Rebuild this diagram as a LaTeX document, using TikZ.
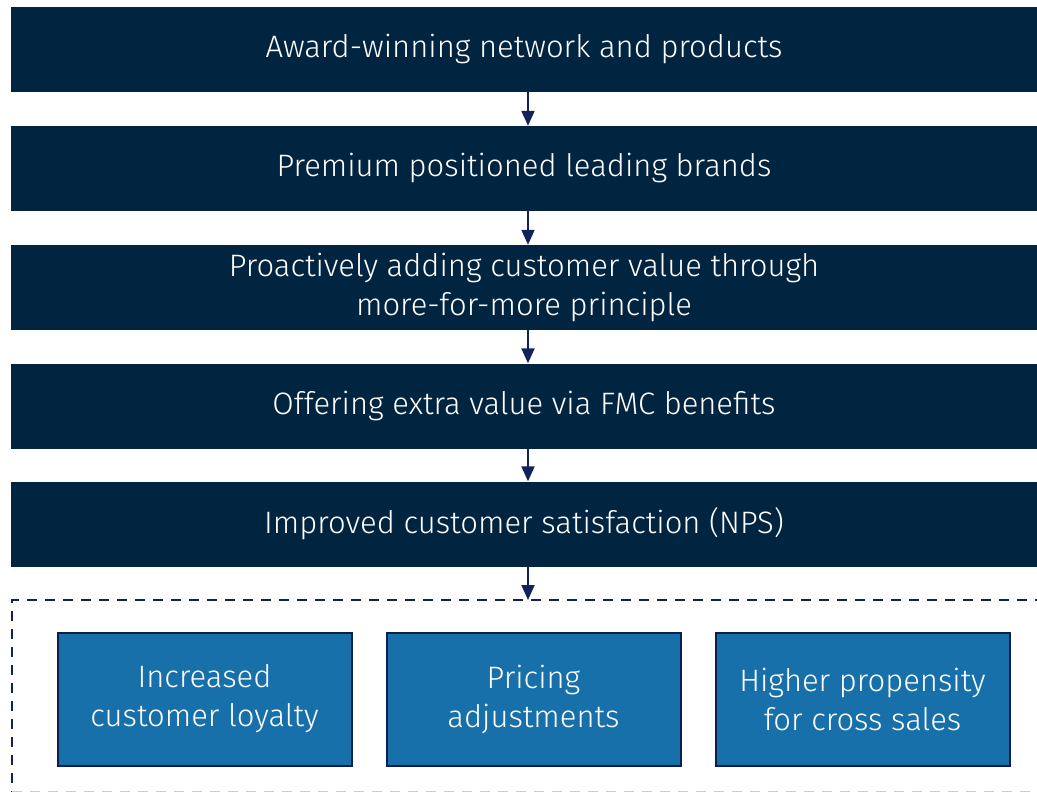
\documentclass[tikz,border=0pt]{standalone}
\usepackage{fontspec}
\setmainfont{Fira Sans}[UprightFont={* Light}]
\usetikzlibrary{arrows.meta}
\definecolor{navy}{HTML}{012541}
\definecolor{arrowc}{HTML}{13225A}
\definecolor{bluef}{HTML}{1870AB}
\definecolor{blueb}{HTML}{0B1E4E}
\tikzset{
  darkbox/.style={fill=navy, draw=none, minimum width=1026pt, minimum height=85pt, inner sep=0pt,
    text=white, align=center, font=\fontsize{31}{39}\selectfont},
  lightbox/.style={fill=bluef, draw=blueb, line width=2pt, minimum width=294pt, minimum height=133pt,
    inner sep=0pt, text=white, align=center, font=\fontsize{31}{39}\selectfont},
  flow/.style={draw=arrowc, line width=2pt, -{Triangle[width=13pt,length=15pt]}}
}
\begin{document}
\begin{tikzpicture}[x=1pt,y=-1pt]
\useasboundingbox (0,0) rectangle (1037,792);
\node[darkbox] (b1) at (524,49.5) {Award-winning network and products};
\node[darkbox] (b2) at (524,168.5) {Premium positioned leading brands};
\node[darkbox] (b3) at (524,287.5) {Proactively adding customer value through\\more-for-more principle};
\node[darkbox] (b4) at (524,406) {Offering extra value via FMC benefits};
\node[darkbox] (b5) at (524,524) {Improved customer satisfaction (NPS)};
\coordinate (dtop) at (528,600);
\draw[arrowc, line width=2.5pt, dash pattern=on 10pt off 8pt] (1045,600) -- (12,600) -- (12,792);
\draw[gray!40, line width=1pt, dash pattern=on 10pt off 8pt] (12,791.5) -- (1045,791.5);
\node[lightbox] (c1) at (204.5,699) {Increased\\customer loyalty};
\node[lightbox] (c2) at (533.5,699) {Pricing\\adjustments};
\node[lightbox] (c3) at (862.5,699) {Higher propensity\\for cross sales};
\draw[flow] (b1.south -| dtop) -- (b2.north -| dtop);
\draw[flow] (b2.south -| dtop) -- (b3.north -| dtop);
\draw[flow] (b3.south -| dtop) -- (b4.north -| dtop);
\draw[flow] (b4.south -| dtop) -- (b5.north -| dtop);
\draw[flow] (b5.south -| dtop) -- (dtop);
\end{tikzpicture}
\end{document}
